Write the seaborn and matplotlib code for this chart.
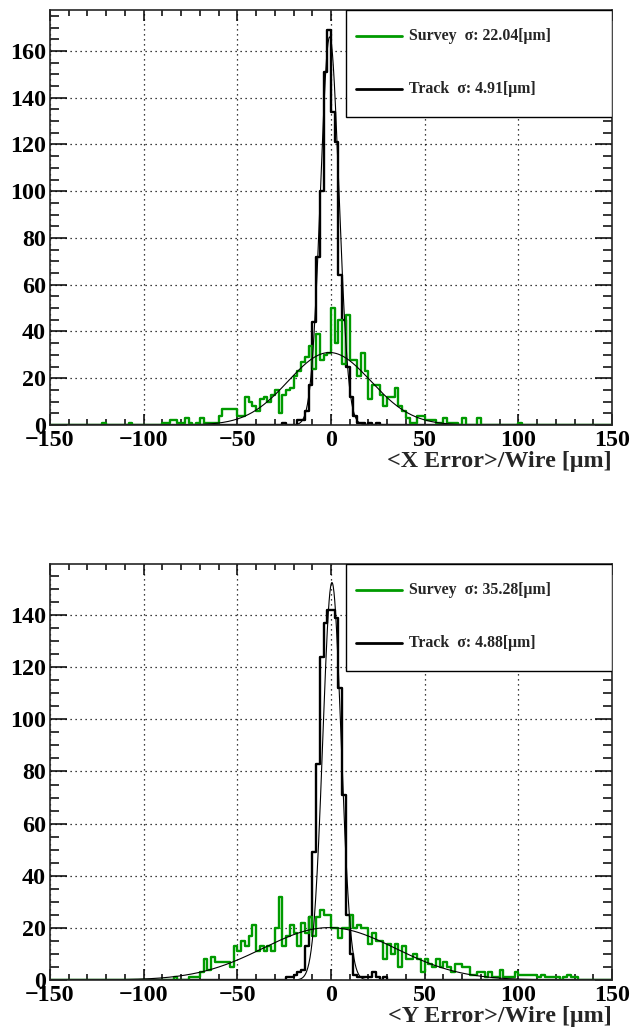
import numpy as np
import pandas as pd
import seaborn as sns
import matplotlib.pyplot as plt
from matplotlib.ticker import MultipleLocator
from matplotlib.patches import Rectangle
from matplotlib.lines import Line2D

# ROOT histograms: 150 bins of 2 um between -150 and 150
bin_edges = np.arange(-150, 152, 2)
bin_centers = bin_edges[:-1] + 1

# top panel: <X Error>/Wire, counts listed from the first non-empty bin (left edge)
survey_x_first = -122
survey_x_counts = [1, 0, 0, 0, 0, 0, 0, 1, 0, 0, 0, 0, 0, 0, 0, 0,
                   1, 1, 2, 2, 1, 1, 3, 1, 0, 1, 3, 1, 1, 1, 1, 4, 7, 7, 7, 7, 4, 4,
                   12, 10, 8, 6, 11, 12, 10, 13, 15, 5, 13, 15, 16, 21, 23, 27, 29, 34,
                   24, 39, 28, 30, 31, 50, 35, 45, 26, 47, 28, 28, 21, 31, 23, 11, 17, 17,
                   13, 8, 12, 12, 16, 8, 6, 3, 1, 1, 4, 4, 2, 2, 2, 1, 1, 3, 1, 1, 1, 0,
                   3, 0, 0, 0, 3, 0, 0, 0, 0, 0, 0, 0, 0, 0, 0, 1]
track_x_first = -26
track_x_counts = [1, 0, 0, 0, 2, 2, 6, 17, 44, 72, 100, 151, 169, 134, 121, 64,
                  45, 25, 12, 4, 1, 1, 0, 1, 0, 1]

# bottom panel: <Y Error>/Wire
survey_y_first = -84
survey_y_counts = [1, 0, 0, 0, 1, 1, 1, 3, 8, 4, 9, 7, 7, 7, 7, 5, 13, 11, 15, 13,
                   17, 21, 11, 13, 11, 13, 11, 20, 32, 13, 17, 21, 18, 13, 22, 18, 24,
                   17, 24, 27, 25, 25, 20, 20, 16, 20, 20, 25, 20, 21, 20, 20, 14, 18,
                   15, 15, 8, 14, 10, 14, 5, 13, 8, 8, 10, 8, 3, 8, 6, 5, 8, 5, 7, 5,
                   3, 6, 6, 5, 5, 2, 2, 3, 3, 1, 3, 1, 1, 4, 1, 1, 1, 3, 2, 2, 2, 2, 2,
                   1, 2, 1, 1, 1, 1, 0, 1, 2, 1, 1]
track_y_first = -24
track_y_counts = [1, 1, 2, 3, 4, 13, 24, 49, 83, 124, 137, 142, 142, 139, 112, 71,
                  25, 10, 2, 1, 1, 1, 1, 3, 1, 0, 1]

# gaussian fit results: mean, sigma, constant
fit_survey_x = (-0.8, 22.04, 31.0)
fit_track_x = (-0.7, 4.91, 166.0)
fit_survey_y = (-1.0, 35.28, 20.1)
fit_track_y = (0.5, 4.88, 152.5)

survey_color = "#009a00"
track_color = "black"


def full_counts(first, counts):
    h = np.zeros(len(bin_centers))
    i0 = int((first - bin_edges[0]) // 2)
    h[i0:i0 + len(counts)] = counts
    return h


def gauss(xs, fit):
    mu, sigma, const = fit
    return const * np.exp(-0.5 * ((xs - mu) / sigma) ** 2)


sns.set_style("ticks")
plt.rcParams["font.family"] = ["Liberation Serif", "DejaVu Serif"]
plt.rcParams["font.weight"] = "bold"
plt.rcParams["axes.unicode_minus"] = True

fig = plt.figure(figsize=(6.32, 10.34), dpi=100)
ax_top = fig.add_axes([50 / 632, 1 - 425 / 1034, 562 / 632, 415 / 1034])
ax_bot = fig.add_axes([50 / 632, 1 - 980 / 1034, 562 / 632, 416 / 1034])

panels = [
    (ax_top, survey_x_first, survey_x_counts, track_x_first, track_x_counts,
     fit_survey_x, fit_track_x, 177.5, "<X Error>/Wire [μm]"),
    (ax_bot, survey_y_first, survey_y_counts, track_y_first, track_y_counts,
     fit_survey_y, fit_track_y, 159.6, "<Y Error>/Wire [μm]"),
]

xs = np.linspace(-150, 150, 1501)

for ax, s_first, s_counts, t_first, t_counts, s_fit, t_fit, ymax, xlabel in panels:
    df = pd.DataFrame({"x": bin_centers,
                       "track": full_counts(t_first, t_counts),
                       "survey": full_counts(s_first, s_counts)})
    sns.histplot(data=df, x="x", weights="track", binwidth=2, binrange=(-150, 150),
                 element="step", fill=False, color=track_color, linewidth=1.7, ax=ax)
    sns.histplot(data=df, x="x", weights="survey", binwidth=2, binrange=(-150, 150),
                 element="step", fill=False, color=survey_color, linewidth=1.7, ax=ax)
    sns.lineplot(x=xs, y=gauss(xs, s_fit), color="black", linewidth=0.8, ax=ax)
    sns.lineplot(x=xs, y=gauss(xs, t_fit), color="black", linewidth=0.8, ax=ax)

    ax.set_xlim(-150, 150)
    ax.set_ylim(0, ymax)
    ax.xaxis.set_major_locator(MultipleLocator(50))
    ax.xaxis.set_minor_locator(MultipleLocator(10))
    ax.yaxis.set_major_locator(MultipleLocator(20))
    ax.yaxis.set_minor_locator(MultipleLocator(5))
    ax.grid(which="major", color="black", linestyle=(0, (1, 3)), linewidth=0.9)

    for sp in ax.spines.values():
        sp.set_linewidth(1.2)
        sp.set_visible(True)
    ax.tick_params(which="both", direction="in", top=True, right=True, width=1.1,
                   labelsize=17.3, colors="black")
    ax.tick_params(axis="x", which="major", length=8, pad=3.5)
    ax.tick_params(axis="x", which="minor", length=4.5)
    ax.tick_params(axis="y", which="major", length=12, pad=3)
    ax.tick_params(axis="y", which="minor", length=6.5)
    for lab in ax.get_xticklabels() + ax.get_yticklabels():
        lab.set_fontweight("bold")

    ax.set_ylabel("")
    ax.set_xlabel(xlabel, fontsize=17.3, fontweight="bold", loc="right")
    ax.xaxis.set_label_coords(1.0, -0.062)

    # legend box in the ROOT style
    ax.add_patch(Rectangle((0.527, 0.742), 0.473, 0.258, transform=ax.transAxes,
                           facecolor="white", edgecolor="black", linewidth=1.0, zorder=5))
    labels = [f"Survey  σ: {s_fit[1]:.2f}[μm]", f"Track  σ: {t_fit[1]:.2f}[μm]"]
    for label, color, yy in zip(labels, (survey_color, track_color), (0.937, 0.81)):
        ax.add_line(Line2D([0.544, 0.626], [yy, yy], transform=ax.transAxes,
                           color=color, linewidth=2.0, zorder=6))
        ax.text(0.639, yy, label, transform=ax.transAxes, ha="left", va="center",
                fontsize=11.4, fontweight="bold", zorder=6)

fig.savefig("out.png", dpi=100)
